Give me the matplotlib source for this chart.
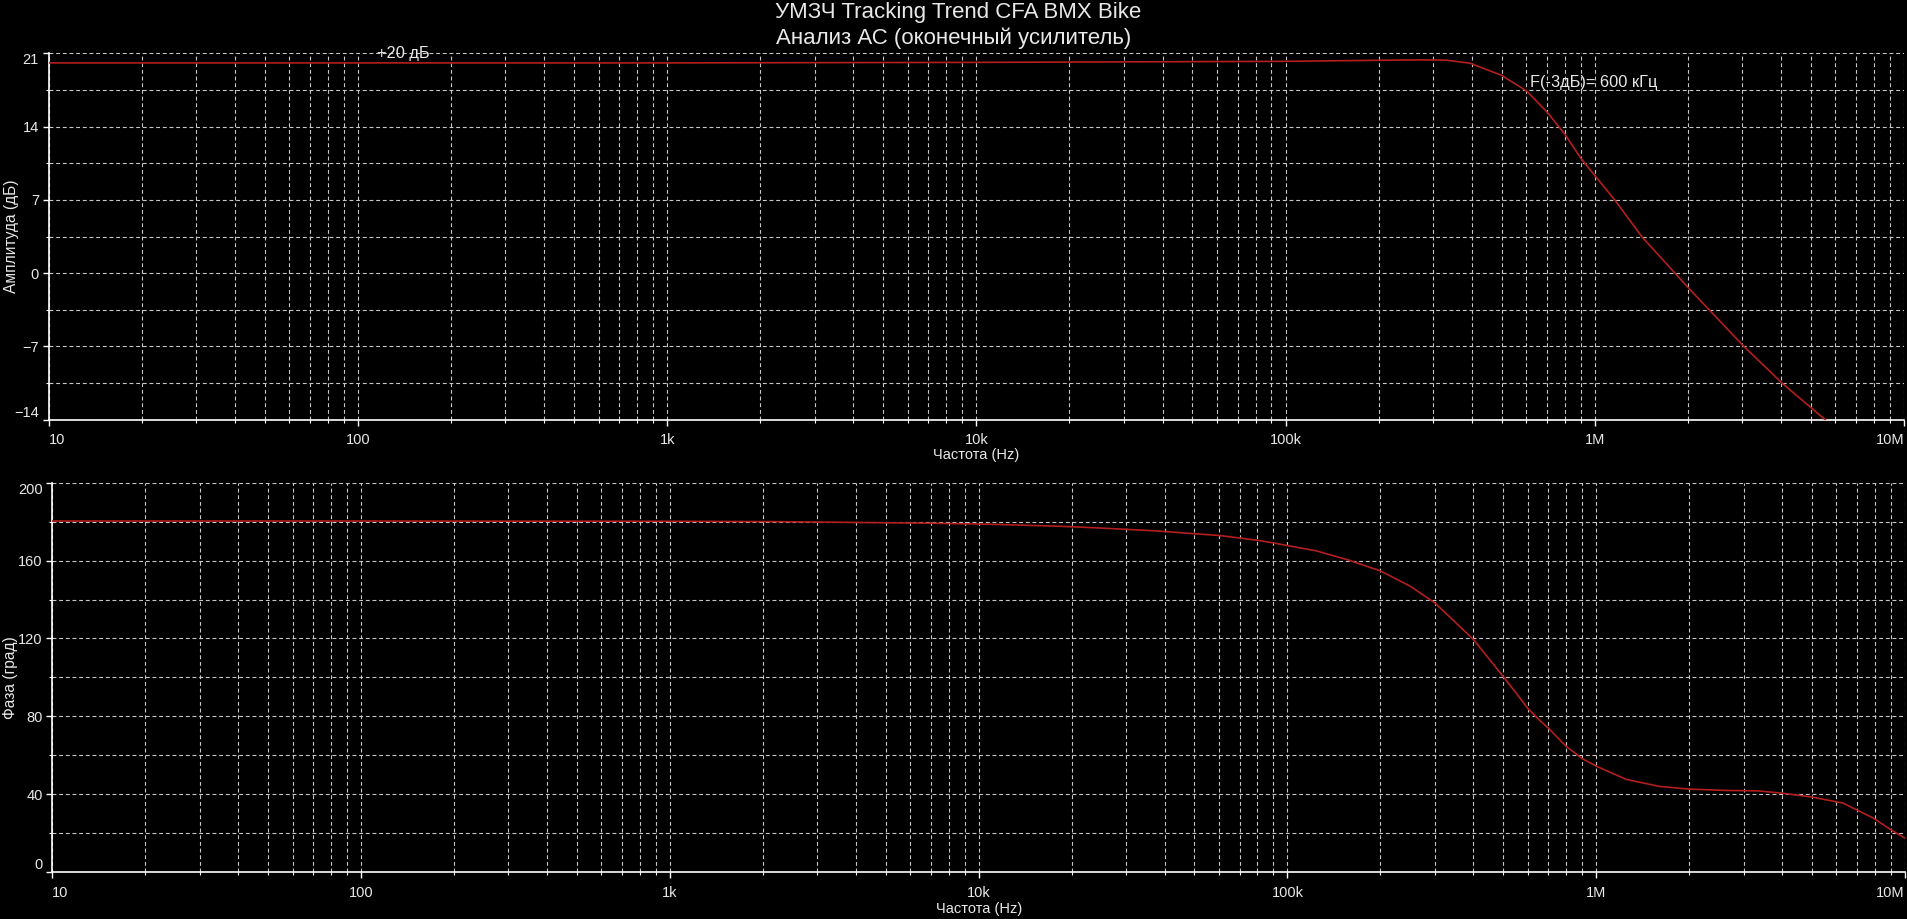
import numpy as np
import matplotlib.pyplot as plt
from matplotlib.ticker import FixedLocator, NullFormatter

plt.rcParams['font.family'] = ['Liberation Sans', 'DejaVu Sans']

# amplitude response (dB)
amp_freq = [10, 100, 1e3, 1e4, 1e5, 2e5, 2.78e5, 3.31e5, 3.95e5, 4.99e5, 6.02e5,
            7.04e5, 8.02e5, 9.0e5, 1e6, 1.16e6, 1.42e6, 2.02e6, 3.02e6, 4.04e6,
            5.52e6, 6.2e6]
amp_db = [20.1, 20.1, 20.1, 20.15, 20.25, 20.35, 20.39, 20.36, 20.07, 18.92, 17.41,
          15.33, 13.24, 11.0, 9.33, 7.0, 3.47, -1.5, -6.95, -10.54,
          -13.94, -15.3]

# phase response (deg)
ph_freq = [10, 100, 1e3, 2.2e3, 7e3, 1.13e4, 1.77e4, 2.2e4, 2.8e4, 3.8e4, 5e4, 6e4,
           7e4, 8e4, 9e4, 1e5, 1.24e5, 1.56e5, 2e5, 2.5e5, 3e5, 3.44e5, 4e5, 4.53e5,
           5e5, 5.5e5, 6e5, 6.5e5, 7e5, 8e5, 9e5, 1e6, 1.25e6, 1.6e6, 2e6, 2.64e6,
           3.33e6, 4e6, 5e6, 6.3e6, 7.9e6, 9e6, 1e7]
ph_deg = [180.3, 180.3, 180.2, 180.0, 179.2, 178.6, 177.7, 177.1, 176.3, 175.2, 173.8, 172.9,
          171.6, 170.4, 169.1, 167.7, 165.0, 160.5, 154.7, 146.8, 138.3, 129.4, 119.5, 108.9,
          100.4, 92.0, 84.1, 78.5, 73.9, 64.5, 58.3, 54.4, 47.6, 44.0, 42.6, 41.9,
          41.7, 40.5, 38.5, 35.4, 27.7, 21.7, 17.4]

x_ticks = [10, 100, 1e3, 1e4, 1e5, 1e6, 1e7]
x_labels = ['10', '100', '1k', '10k', '100k', '1M', '10M']
amp_ticks = [-14, -7, 0, 7, 14, 21]
ph_ticks = [0, 40, 80, 120, 160, 200]

title1 = 'УМЗЧ Tracking Trend CFA BMX Bike'
title2 = 'Анализ АС (оконечный усилитель)'

txt = '#e8e8e8'
grid_c = '#c8c8c8'
curve_c = '#b41e1e'

fig = plt.figure(figsize=(19.08, 9.19), dpi=100, facecolor='black')

ax1 = fig.add_axes([0.02552, 0.5435, 0.9724, 0.3983])
ax2 = fig.add_axes([0.02741, 0.05114, 0.9710, 0.4236])

minor_x = [m * 10**e for e in range(1, 7) for m in range(2, 10)]


def style(ax, yticks, ymin, ymax, ystep):
    ax.set_facecolor('black')
    ax.set_xscale('log')
    ax.set_xlim(10, 1e7)
    ax.set_ylim(ymin, ymax)
    for s in ['top', 'right']:
        ax.spines[s].set_visible(False)
    for s in ['left', 'bottom']:
        ax.spines[s].set_color('white')
        ax.spines[s].set_linewidth(1.2)
    ax.xaxis.set_major_locator(FixedLocator(x_ticks))
    ax.xaxis.set_minor_locator(FixedLocator(minor_x))
    ax.xaxis.set_minor_formatter(NullFormatter())
    ax.set_xticklabels(x_labels)
    ax.set_yticks(yticks)
    ax.set_yticks(np.arange(ymin + ystep / 2, ymax, ystep), minor=True)
    ax.tick_params(which='major', colors='white', labelcolor=txt, labelsize=10.5,
                   length=4, width=1, pad=3)
    ax.tick_params(axis='x', which='major', pad=6)
    ax.tick_params(which='minor', colors='white', length=2, width=0.8)
    ax.grid(True, which='both', color=grid_c, lw=0.8, ls=(0, (3.5, 2.5)))
    ax.set_axisbelow(True)
    xl = ax.get_xticklabels()
    xl[0].set_ha('left')
    xl[-1].set_ha('right')
    yl = ax.get_yticklabels()
    yl[0].set_va('bottom')
    yl[-1].set_va('top')


style(ax1, amp_ticks, -14, 21, 7)
style(ax2, ph_ticks, 0, 200, 40)

ax1.plot(amp_freq, amp_db, color=curve_c, lw=1.2, zorder=3)
ax2.plot(ph_freq, ph_deg, color=curve_c, lw=1.2, zorder=3)

ax1.text(115, 21, '+20 дБ', color=txt, fontsize=11.8, ha='left', va='center')
ax1.text(6.18e5, 18.2, 'F(-3дБ)= 600 кГц', color=txt, fontsize=11.8,
         ha='left', va='center')

ax1.set_xlabel('Частота (Hz)', color=txt, fontsize=10.5)
ax1.xaxis.set_label_coords(0.5, -0.097)
ax1.xaxis.label.set_va('center')
ax1.set_ylabel('Амплитуда (дБ)', color=txt, fontsize=11.2)
ax1.yaxis.set_label_coords(-0.0203, 0.5)
ax1.yaxis.label.set_va('center')

ax2.set_xlabel('Частота (Hz)', color=txt, fontsize=10.5)
ax2.xaxis.set_label_coords(0.5, -0.095)
ax2.xaxis.label.set_va('center')
ax2.set_ylabel('Фаза (град)', color=txt, fontsize=11.2)
ax2.yaxis.set_label_coords(-0.0223, 0.5)
ax2.yaxis.label.set_va('center')

fig.text(0.502, 0.986, title1, color=txt, fontsize=16, ha='center', va='center')
fig.text(0.5, 0.958, title2, color=txt, fontsize=16, ha='center', va='center')

fig.savefig('out.png', dpi=100, facecolor='black')
